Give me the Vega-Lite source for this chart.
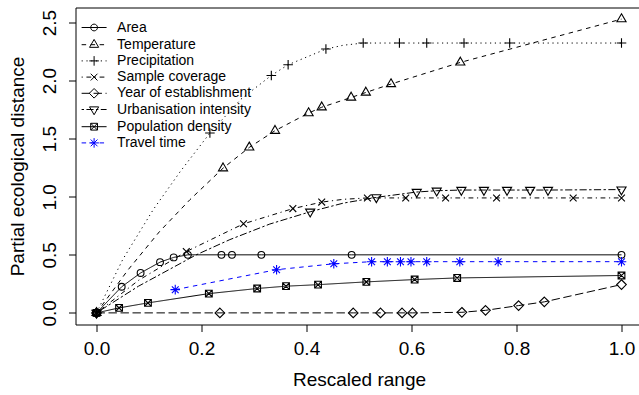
{
  "$schema": "https://vega.github.io/schema/vega-lite/v6.json",
  "autosize": "none",
  "padding": {"left": 75.5, "top": 7.5, "right": 0, "bottom": 70.5},
  "width": 567,
  "height": 317,
  "background": "white",
  "config": {
    "view": {"stroke": "black", "strokeWidth": 1},
    "axis": {
      "labelFont": "Liberation Sans", "labelFontSize": 19, "labelColor": "black",
      "titleFont": "Liberation Sans", "titleFontSize": 19, "titleFontWeight": "normal", "titleColor": "black",
      "tickColor": "black", "tickSize": 7, "tickWidth": 1, "domain": false, "grid": false
    }
  },
  "data": {"values": [
    {"s":"Area","x":0,"y":0,"o":1},{"s":"Area","x":0.048,"y":0.225,"o":1},{"s":"Area","x":0.084,"y":0.344,"o":1},{"s":"Area","x":0.121,"y":0.437,"o":1},{"s":"Area","x":0.147,"y":0.478,"o":1},{"s":"Area","x":0.174,"y":0.5,"o":1},{"s":"Area","x":0.238,"y":0.5,"o":1},{"s":"Area","x":0.258,"y":0.5,"o":1},{"s":"Area","x":0.314,"y":0.5,"o":1},{"s":"Area","x":0.486,"y":0.5,"o":1},{"s":"Area","x":1,"y":0.5,"o":1},
    {"s":"Temperature","x":0,"y":0,"o":1},{"s":"Temperature","x":0.06,"y":0.37,"o":0},{"s":"Temperature","x":0.12,"y":0.7,"o":0},{"s":"Temperature","x":0.178,"y":0.975,"o":0},{"s":"Temperature","x":0.241,"y":1.246,"o":1},{"s":"Temperature","x":0.291,"y":1.425,"o":1},{"s":"Temperature","x":0.34,"y":1.569,"o":1},{"s":"Temperature","x":0.404,"y":1.721,"o":1},{"s":"Temperature","x":0.429,"y":1.771,"o":1},{"s":"Temperature","x":0.485,"y":1.855,"o":1},{"s":"Temperature","x":0.513,"y":1.898,"o":1},{"s":"Temperature","x":0.561,"y":1.971,"o":1},{"s":"Temperature","x":0.693,"y":2.157,"o":1},{"s":"Temperature","x":1,"y":2.53,"o":1},
    {"s":"Precipitation","x":0,"y":0,"o":1},{"s":"Precipitation","x":0.05,"y":0.46,"o":0},{"s":"Precipitation","x":0.108,"y":0.889,"o":0},{"s":"Precipitation","x":0.16,"y":1.22,"o":0},{"s":"Precipitation","x":0.216,"y":1.549,"o":1},{"s":"Precipitation","x":0.275,"y":1.84,"o":0},{"s":"Precipitation","x":0.333,"y":2.045,"o":1},{"s":"Precipitation","x":0.365,"y":2.137,"o":1},{"s":"Precipitation","x":0.437,"y":2.272,"o":1},{"s":"Precipitation","x":0.47,"y":2.305,"o":0},{"s":"Precipitation","x":0.508,"y":2.324,"o":1},{"s":"Precipitation","x":0.577,"y":2.324,"o":1},{"s":"Precipitation","x":0.629,"y":2.324,"o":1},{"s":"Precipitation","x":0.7,"y":2.324,"o":1},{"s":"Precipitation","x":0.787,"y":2.324,"o":1},{"s":"Precipitation","x":1,"y":2.324,"o":1},
    {"s":"Sample coverage","x":0,"y":0,"o":1},{"s":"Sample coverage","x":0.08,"y":0.28,"o":0},{"s":"Sample coverage","x":0.171,"y":0.528,"o":1},{"s":"Sample coverage","x":0.28,"y":0.767,"o":1},{"s":"Sample coverage","x":0.374,"y":0.898,"o":1},{"s":"Sample coverage","x":0.429,"y":0.954,"o":1},{"s":"Sample coverage","x":0.47,"y":0.978,"o":0},{"s":"Sample coverage","x":0.516,"y":0.99,"o":1},{"s":"Sample coverage","x":0.589,"y":0.99,"o":1},{"s":"Sample coverage","x":0.665,"y":0.99,"o":1},{"s":"Sample coverage","x":0.762,"y":0.99,"o":1},{"s":"Sample coverage","x":0.908,"y":0.99,"o":1},{"s":"Sample coverage","x":1,"y":0.99,"o":1},
    {"s":"Year of establishment","x":0,"y":0,"o":1},{"s":"Year of establishment","x":0.235,"y":0,"o":1},{"s":"Year of establishment","x":0.489,"y":0,"o":1},{"s":"Year of establishment","x":0.541,"y":0,"o":1},{"s":"Year of establishment","x":0.582,"y":0,"o":1},{"s":"Year of establishment","x":0.602,"y":0,"o":1},{"s":"Year of establishment","x":0.696,"y":0.005,"o":1},{"s":"Year of establishment","x":0.741,"y":0.022,"o":1},{"s":"Year of establishment","x":0.804,"y":0.063,"o":1},{"s":"Year of establishment","x":0.853,"y":0.095,"o":1},{"s":"Year of establishment","x":1,"y":0.244,"o":1},
    {"s":"Urbanisation intensity","x":0,"y":0,"o":1},{"s":"Urbanisation intensity","x":0.08,"y":0.23,"o":0},{"s":"Urbanisation intensity","x":0.19,"y":0.5,"o":0},{"s":"Urbanisation intensity","x":0.254,"y":0.631,"o":0},{"s":"Urbanisation intensity","x":0.33,"y":0.765,"o":0},{"s":"Urbanisation intensity","x":0.407,"y":0.871,"o":1},{"s":"Urbanisation intensity","x":0.47,"y":0.945,"o":0},{"s":"Urbanisation intensity","x":0.533,"y":0.995,"o":1},{"s":"Urbanisation intensity","x":0.61,"y":1.041,"o":1},{"s":"Urbanisation intensity","x":0.648,"y":1.052,"o":1},{"s":"Urbanisation intensity","x":0.695,"y":1.058,"o":1},{"s":"Urbanisation intensity","x":0.738,"y":1.058,"o":1},{"s":"Urbanisation intensity","x":0.782,"y":1.058,"o":1},{"s":"Urbanisation intensity","x":0.826,"y":1.058,"o":1},{"s":"Urbanisation intensity","x":0.86,"y":1.058,"o":1},{"s":"Urbanisation intensity","x":1,"y":1.062,"o":1},
    {"s":"Population density","x":0,"y":0,"o":1},{"s":"Population density","x":0.043,"y":0.043,"o":1},{"s":"Population density","x":0.098,"y":0.086,"o":1},{"s":"Population density","x":0.214,"y":0.166,"o":1},{"s":"Population density","x":0.306,"y":0.21,"o":1},{"s":"Population density","x":0.361,"y":0.23,"o":1},{"s":"Population density","x":0.422,"y":0.243,"o":1},{"s":"Population density","x":0.514,"y":0.267,"o":1},{"s":"Population density","x":0.606,"y":0.287,"o":1},{"s":"Population density","x":0.687,"y":0.301,"o":1},{"s":"Population density","x":1,"y":0.322,"o":1},
    {"s":"Travel time","x":0.15,"y":0.2,"o":1},{"s":"Travel time","x":0.343,"y":0.372,"o":1},{"s":"Travel time","x":0.452,"y":0.423,"o":1},{"s":"Travel time","x":0.524,"y":0.441,"o":1},{"s":"Travel time","x":0.554,"y":0.441,"o":1},{"s":"Travel time","x":0.579,"y":0.441,"o":1},{"s":"Travel time","x":0.599,"y":0.441,"o":1},{"s":"Travel time","x":0.629,"y":0.441,"o":1},{"s":"Travel time","x":0.692,"y":0.441,"o":1},{"s":"Travel time","x":0.765,"y":0.441,"o":1},{"s":"Travel time","x":1,"y":0.441,"o":1}
  ]},
  "encoding": {
    "x": {"field": "x", "type": "quantitative", "scale": {"domain": [-0.04, 1.04], "nice": false, "zero": false},
      "axis": {"values": [0, 0.2, 0.4, 0.6, 0.8, 1], "format": ".1f", "title": "Rescaled range", "labelPadding": 8, "titlePadding": 12}},
    "y": {"field": "y", "type": "quantitative", "scale": {"domain": [-0.1, 2.63], "nice": false, "zero": false},
      "axis": {"values": [0, 0.5, 1, 1.5, 2, 2.5], "format": ".1f", "title": "Partial ecological distance", "labelAngle": 270, "labelAlign": "center", "labelBaseline": "bottom", "labelPadding": 9, "titlePadding": 13}},
    "color": {"field": "s", "type": "nominal",
      "scale": {"domain": ["Area", "Temperature", "Precipitation", "Sample coverage", "Year of establishment", "Urbanisation intensity", "Population density", "Travel time"],
        "range": ["#000000", "#000000", "#000000", "#000000", "#000000", "#000000", "#000000", "#0000ff"]},
      "legend": {
        "orient": "none", "legendX": 11.6, "legendY": 13, "title": null,
        "labelFont": "Liberation Sans", "labelFontSize": 14, "labelColor": "black", "labelLimit": 400,
        "symbolSize": 46, "rowPadding": 2.2, "labelOffset": 16, "padding": 0, "symbolStrokeWidth": 1, "symbolOffset": 0, "symbolOpacity": 1,
        "symbolType": {"expr": "['M-3.68,0L3.68,0M-1,0A1,1,0,1,1,1,0A1,1,0,1,1,-1,0Z', 'M-3.68,0L-2.35,0M-1.03,0L0.29,0M1.62,0L2.94,0M0,-1.555L1.347,0.778L-1.347,0.778Z', 'M-3.68,0L-3.33,0M-2.26,0L-1.91,0M-0.85,0L-0.5,0M0.56,0L0.91,0M1.97,0L2.32,0M3.38,0L3.68,0M-1.414,0L1.414,0M0,-1.414L0,1.414', 'M-3.68,0L-3.33,0M-2.26,0L-0.85,0M0.21,0L0.56,0M1.62,0L3.03,0M-1,-1L1,1M-1,1L1,-1', 'M-3.68,0L-1.21,0M-0.15,0L2.32,0M3.38,0L3.68,0M0,-1.414L1.414,0L0,1.414L-1.414,0Z', 'M-3.68,0L-2.97,0M-2.26,0L-0.15,0M0.56,0L1.26,0M1.97,0L3.68,0M0,1.555L1.347,-0.778L-1.347,-0.778Z', 'M-3.68,0L3.68,0M-1,-1L1,-1L1,1L-1,1ZM-1,-1L1,1M-1,1L1,-1', 'M-3.68,0L-2.35,0M-1.03,0L0.29,0M1.62,0L2.94,0M-1,-1L1,1M-1,1L1,-1M-1.414,0L1.414,0M0,-1.414L0,1.414'][indexof(['Area', 'Temperature', 'Precipitation', 'Sample coverage', 'Year of establishment', 'Urbanisation intensity', 'Population density', 'Travel time'], datum.value)]"}
      }}
  },
  "layer": [
    {
      "mark": {"type": "line", "strokeWidth": 1, "interpolate": "linear"},
      "encoding": {
        "strokeDash": {"field": "s", "type": "nominal", "legend": null,
          "scale": {"domain": ["Travel time", "Population density", "Urbanisation intensity", "Year of establishment", "Sample coverage", "Precipitation", "Temperature", "Area"],
            "range": [[4.5, 4.5], [1, 0], [2.4, 2.4, 7.2, 2.4], [8.4, 3.6], [1.2, 3.6, 4.8, 3.6], [1.2, 3.6], [4.5, 4.5], [1, 0]]}}
      }
    },
    {
      "transform": [{"filter": "datum.o == 1"}],
      "mark": {"type": "point", "filled": false, "size": 46, "strokeWidth": 1.1, "opacity": 1},
      "encoding": {
        "shape": {"field": "s", "type": "nominal", "legend": null,
          "scale": {"domain": ["Travel time", "Population density", "Urbanisation intensity", "Year of establishment", "Sample coverage", "Precipitation", "Temperature", "Area"],
            "range": ["M-1,-1L1,1M-1,1L1,-1M-1.414,0L1.414,0M0,-1.414L0,1.414", "M-1,-1L1,-1L1,1L-1,1ZM-1,-1L1,1M-1,1L1,-1", "M0,1.555L1.347,-0.778L-1.347,-0.778Z", "M0,-1.414L1.414,0L0,1.414L-1.414,0Z", "M-1,-1L1,1M-1,1L1,-1", "M-1.414,0L1.414,0M0,-1.414L0,1.414", "M0,-1.555L1.347,0.778L-1.347,0.778Z", "M-1,0A1,1,0,1,1,1,0A1,1,0,1,1,-1,0Z"]}}
      }
    }
  ]
}
